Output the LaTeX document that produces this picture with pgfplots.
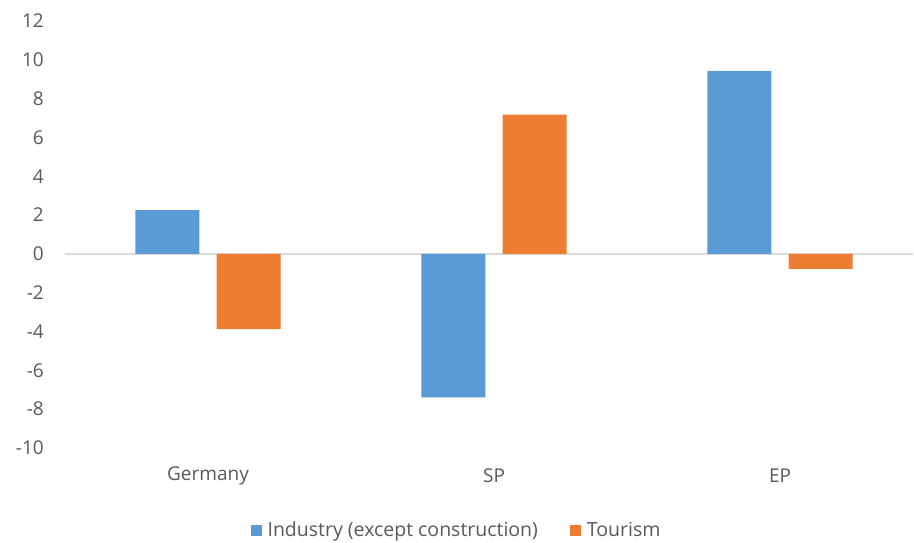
\documentclass[border=0pt]{standalone}
\usepackage{pgfplots}
\pgfplotsset{compat=1.18}
\usepackage{fontspec}
\setmainfont{Open Sans}
\definecolor{ind}{HTML}{5B9BD5}
\definecolor{tour}{HTML}{ED7D31}
\definecolor{txt}{HTML}{595959}
\definecolor{zl}{HTML}{D9D9D9}
\begin{document}
\begin{tikzpicture}[x=1pt,y=1pt]
\fill[white] (0,0) rectangle (914pt,542pt);
\begin{axis}[
  at={(65pt,94pt)}, anchor=south west,
  scale only axis, width=848pt, height=427pt,
  xmin=-0.5, xmax=2.465, ymin=-10, ymax=12,
  ytick={-10,-8,...,12},
  xtick={0,1,2}, xticklabels={Germany,SP,EP},
  axis line style={draw=none}, major tick length=0pt,
  /pgf/number format/assume math mode=true,
  ticklabel style={font=\fontsize{19}{22}\selectfont, text=txt},
  yticklabel style={anchor=east, inner sep=0pt, xshift=-21pt},
  xticklabel style={anchor=center, inner sep=0pt, yshift=-28pt},
  extra y ticks={0}, extra y tick labels={},
  extra y tick style={grid=major, major grid style={draw=zl, line width=1.5pt}},
  ybar, bar width=0.224,
  legend style={at={(0.4617,-0.192)}, anchor=center, draw=none, fill=none,
    legend columns=2, font=\fontsize{19.5}{22}\selectfont, text=txt,
    /tikz/every odd column/.append style={column sep=4pt},
    /tikz/every even column/.append style={column sep=30pt},
    legend cell align=left},
  legend image code/.code={\fill[#1] (0pt,-6pt) rectangle (11pt,5pt);},
]
\addplot[fill=ind, draw=none, bar shift=-0.142] coordinates {(0,2.25) (1,-7.39) (2,9.43)};
\addplot[fill=tour, draw=none, bar shift=0.142] coordinates {(0,-3.87) (1,7.18) (2,-0.77)};
\legend{Industry (except construction), Tourism}
\end{axis}
\pgfresetboundingbox
\path[use as bounding box] (0,0) rectangle (914pt,542pt);
\end{tikzpicture}
\end{document}
